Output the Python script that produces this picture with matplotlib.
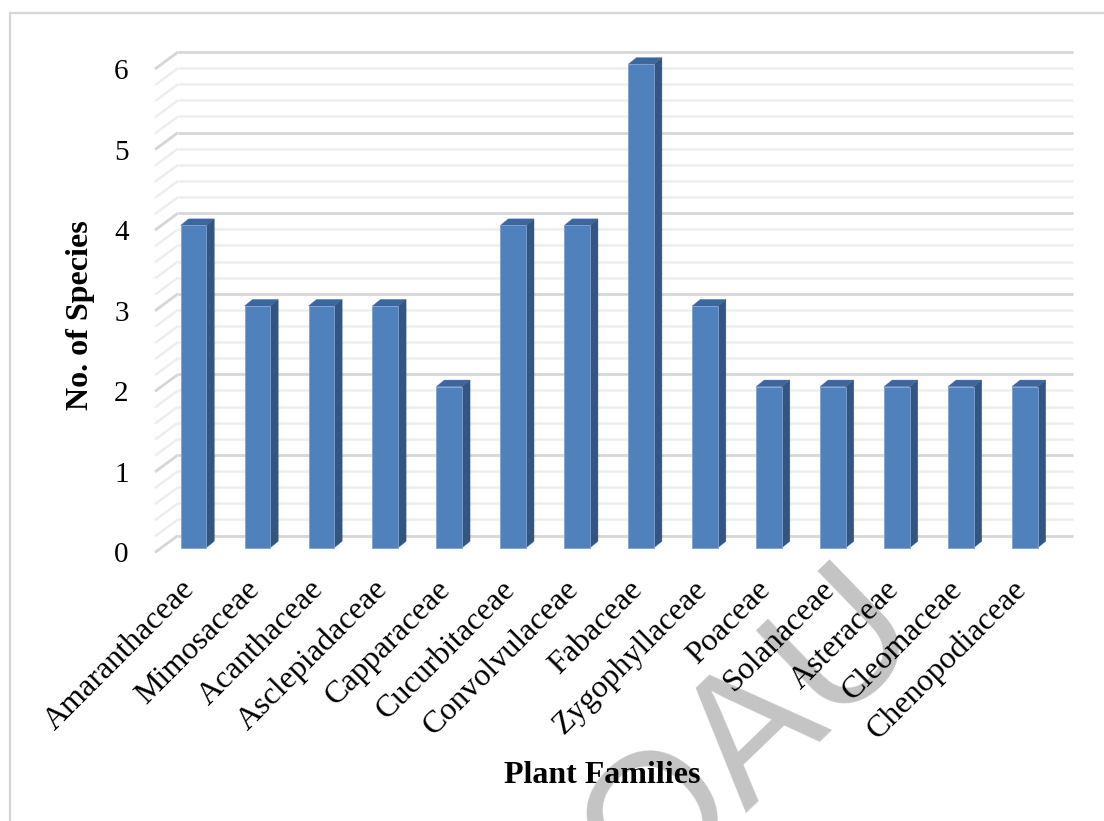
import numpy as np
import matplotlib
matplotlib.use("Agg")
import matplotlib.pyplot as plt
from matplotlib.patches import Polygon
from matplotlib.lines import Line2D

# --- data -------------------------------------------------------------
families = ["Amaranthaceae", "Mimosaceae", "Acanthaceae", "Asclepiadaceae",
            "Capparaceae", "Cucurbitaceae", "Convolvulaceae", "Fabaceae",
            "Zygophyllaceae", "Poaceae", "Solanaceae", "Asteraceae",
            "Cleomaceae", "Chenopodiaceae"]
species = [4, 3, 3, 3, 2, 4, 4, 6, 3, 2, 2, 2, 2, 2]
y_ticks = [0, 1, 2, 3, 4, 5, 6]

# --- styling ----------------------------------------------------------
W, H = 1104, 821
SERIF = "Liberation Serif"
FRONT = "#4F81BD"
SIDE = "#34557F"
TOP = "#3D659E"
MAJOR = "#d6d6d6"
MINOR = "#eeeeee"

fig = plt.figure(figsize=(W / 100, H / 100), dpi=100)
fig.patch.set_facecolor("white")

def fx(px):
    return px / W

def fy(py):
    return 1 - py / H

# chart-area frame (left and top edges)
fig.add_artist(Line2D([fx(10), fx(10)], [fy(13), -0.05], color=MAJOR, lw=1.6,
                      transform=fig.transFigure, zorder=0.5))
fig.add_artist(Line2D([fx(10), 1.05], [fy(13), fy(13)], color=MAJOR, lw=1.6,
                      transform=fig.transFigure, zorder=0.5))

# front plane of the plot area
left_px, right_px = 155.0, 1050.4
zero_px, top_px = 552.5, 69.0
ax = fig.add_axes([fx(left_px), fy(zero_px), (right_px - left_px) / W,
                   (zero_px - top_px) / H])
ax.set_zorder(1)
n = len(families)
x = np.arange(n)
ax.set_xlim(-0.5, n - 0.5)
ax.set_ylim(0, 6)
ax.set_facecolor("none")
for s in ax.spines.values():
    s.set_visible(False)

# pixel scale of the data axes, used for the perspective depth
sx = (right_px - left_px) / n
sy = (zero_px - top_px) / 6.0
DX, DY = 23.0 / sx, 17.0 / sy          # front plane -> back wall
BDX, BDY = 8.0 / sx, 6.5 / sy          # bar thickness
f0 = 0.28                              # depth of the bar front faces

# back wall gridlines and left side wall
x0, x1 = -0.5, n - 0.5
for k in range(31):
    yv = k * 0.2
    major = (k % 5 == 0)
    c = MAJOR if major else MINOR
    lw = 2.0 if major else 1.8
    ax.plot([x0 + DX, x1 + DX], [yv + DY, yv + DY], color=c, lw=lw,
            clip_on=False, zorder=1, solid_capstyle="butt")
    ax.plot([x0, x0 + DX], [yv, yv + DY], color=c, lw=lw,
            clip_on=False, zorder=1, solid_capstyle="butt")

# 3-D style bars
w = 0.40
bx = x + f0 * DX
base = f0 * DY
ax.bar(bx, species, width=w, bottom=base, color=FRONT,
       edgecolor="#7ea3d3", linewidth=0.6, zorder=3, clip_on=False)
for xi, v in zip(bx, species):
    xl, xr = xi - w / 2, xi + w / 2
    side = Polygon([(xr, base), (xr, v + base), (xr + BDX, v + base + BDY),
                    (xr + BDX, base + BDY)], closed=True, facecolor=SIDE,
                   edgecolor=SIDE, lw=0.3, zorder=2.9, clip_on=False)
    top = Polygon([(xl, v + base), (xr, v + base), (xr + BDX, v + base + BDY),
                   (xl + BDX, v + base + BDY)], closed=True, facecolor=TOP,
                  edgecolor=TOP, lw=0.3, zorder=2.9, clip_on=False)
    ax.add_patch(side)
    ax.add_patch(top)

# axes ticks
ax.set_yticks(y_ticks)
ax.set_yticklabels([str(t) for t in y_ticks], fontfamily=SERIF, fontsize=21)
ax.tick_params(axis="y", length=0, pad=19)
ax.set_xticks(x - 0.1)
ax.set_xticklabels(families, rotation=45, ha="right", va="top",
                   rotation_mode="anchor", fontfamily=SERIF, fontsize=23)
ax.tick_params(axis="x", length=0, pad=16)

# axis titles
fig.text(fx(88), fy(315), "No. of Species", rotation=90, ha="center",
         va="baseline", rotation_mode="anchor", fontfamily=SERIF,
         fontweight="bold", fontsize=23, zorder=3)
fig.text(fx(602), fy(783), "Plant Families", ha="center", va="baseline",
         fontfamily=SERIF, fontweight="bold", fontsize=23, zorder=3)

# watermark behind everything
fig.text(fx(752), fy(735), "QAU", rotation=44, ha="center", va="center",
         rotation_mode="anchor", fontfamily="Liberation Sans", fontsize=130,
         color="#c4c4c4", zorder=0)

fig.savefig("out.png", dpi=100, facecolor="white")
